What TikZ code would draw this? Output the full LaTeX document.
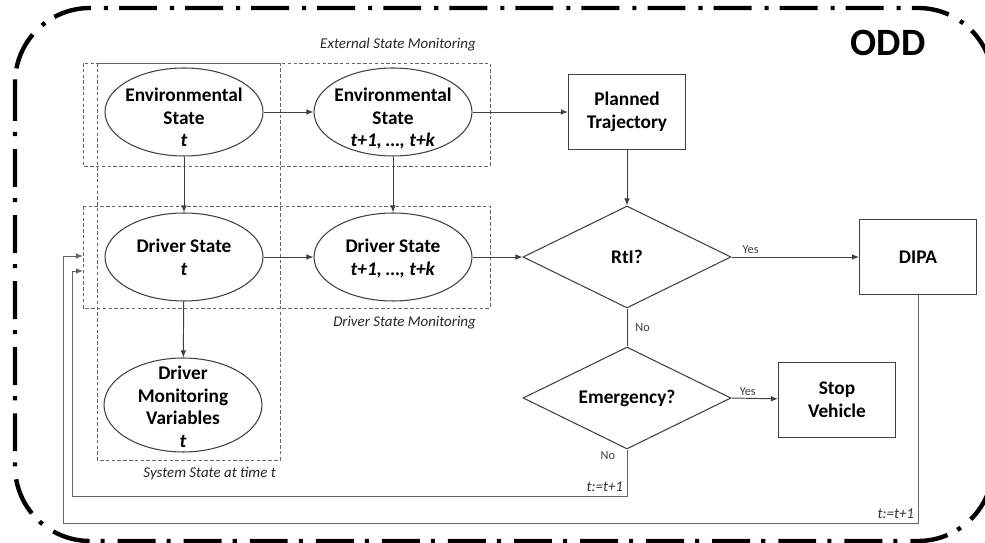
\documentclass[tikz,border=0pt]{standalone}
\usepackage{fontspec}
\setmainfont{Carlito}
\usetikzlibrary{shapes.geometric,arrows.meta}

\newcommand{\stacktxt}[2][0pt]{\raisebox{#1}[0pt][0pt]{\makebox[0pt]{\begin{tabular}{@{}c@{}}#2\end{tabular}}}}

\tikzset{
  state/.style={ellipse,draw=black!75,line width=0.6pt,minimum width=3.16cm,minimum height=1.76cm,inner sep=0pt,font=\fontsize{11}{13}\selectfont\bfseries},
  blk/.style={rectangle,draw=black!75,line width=0.6pt,minimum width=2.34cm,minimum height=1.5cm,align=center,font=\fontsize{11}{13}\selectfont\bfseries},
  decide/.style={diamond,aspect=2,draw=black!75,line width=0.6pt,minimum width=4.16cm,minimum height=2.04cm,inner sep=0pt,font=\fontsize{11}{13}\selectfont\bfseries},
  grp/.style={draw=black!60,line width=0.5pt,dash pattern=on 2pt off 1.3pt},
  grplbl/.style={text=black!85,font=\fontsize{8.5}{10}\selectfont\itshape},
  arr/.style={draw=black!75,line width=0.55pt,-{Latex[length=4pt,width=3.2pt]}},
  lnk/.style={draw=black!75,line width=0.55pt},
  back/.style={draw=black!60,line width=0.55pt,-{Latex[length=4pt,width=3.2pt]}},
  small/.style={text=black!75,inner sep=1.5pt,font=\fontsize{7}{8}\selectfont},
  tstep/.style={text=black!80,inner sep=2pt,font=\fontsize{8.5}{10}\selectfont\itshape},
  oddline/.style={line width=2.5pt,dash pattern=on 21.6pt off 6.3pt on 2.3pt off 7.4pt,rounded corners=1.5cm}
}

\begin{document}
\begin{tikzpicture}[x=0.02cm,y=-0.02cm]
  \useasboundingbox (0,0) rectangle (985,543);
  \clip (0,0) rectangle (985,543);
  % operational design domain
  \draw[oddline] (15,8) rectangle (993,541);
  \node[font=\fontsize{22}{24}\selectfont\bfseries] (odd) at (888,43) {ODD};

  % monitoring groups
  \draw[grp] (83,63) rectangle (490,166);
  \draw[grp] (83,206) rectangle (490,308);
  \draw[grp] (97,63) rectangle (280,460);
  \node[grplbl,anchor=south east] (extlbl) at (482,57) {External State Monitoring};
  \node[grplbl,anchor=north east] (drvlbl) at (482,310) {Driver State Monitoring};
  \node[grplbl,anchor=north east] (syslbl) at (282,461) {System State at time t};

  % states
  \node[state] (envt) at (184,112) {\stacktxt[-7pt]{Environmental\\State\\\textit{t}}};
  \node[state] (envk) at (393,112) {\stacktxt[-7pt]{Environmental\\State\\\textit{t+1, …, t+k}}};
  \node[state] (drvt) at (184,257) {\stacktxt[-4pt]{Driver State\\\textit{t}}};
  \node[state] (drvk) at (393,257) {\stacktxt[-4pt]{Driver State\\\textit{t+1, …, t+k}}};
  \node[state,minimum height=1.88cm] (dmv) at (183,405) {\stacktxt[-5pt]{Driver\\Monitoring\\Variables\\\textit{t}}};

  % decisions
  \node[blk] (pt) at (627,112) {Planned\\Trajectory};
  \node[decide] (rti) at (627,257) {RtI?};
  \node[blk] (dipa) at (918,257) {DIPA};
  \node[decide] (emg) at (627,398) {Emergency?};
  \node[blk] (stop) at (837,400) {Stop\\Vehicle};

  \draw[arr] (envt) -- (envk);
  \draw[arr] (envk) -- (pt);
  \draw[arr] (envt) -- (drvt);
  \draw[arr] (envk) -- (drvk);
  \draw[arr] (drvt) -- (drvk);
  \draw[arr] (drvk) -- (rti);
  \draw[arr] (drvt) -- (dmv);
  \draw[arr] (pt) -- (rti);
  \draw[arr] (rti) -- node[small,above,pos=0.15] (yes1) {Yes} (dipa);
  \draw[lnk] (rti) -- node[small,right=3pt] (no1) {No} (emg);
  \draw[arr] (emg.east) -- node[small,above,pos=0.35] (yes2) {Yes} (stop);

  % time step loops
  \coordinate (in1) at (83,271);
  \coordinate (in2) at (83,256);
  \coordinate (lp1) at (72,496);
  \coordinate (lp2) at (63,523);
  \draw[back] (emg.south) |- node[small,left=5pt,pos=0.07] (no2) {No}
    node[tstep,above left,pos=0.5] (tt1) {t:=t+1} (lp1) |- (in1);
  \draw[back] (dipa.south) |- node[tstep,above left,pos=0.5] (tt2) {t:=t+1} (lp2) |- (in2);
\end{tikzpicture}
\end{document}
